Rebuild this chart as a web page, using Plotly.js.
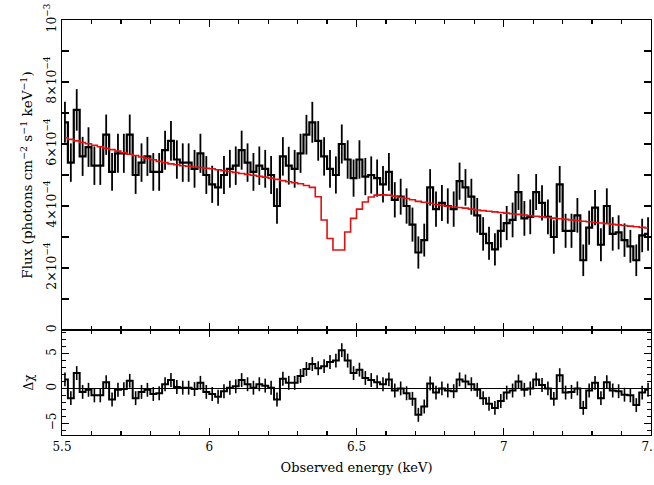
<!DOCTYPE html>
<html>
<head>
<meta charset="utf-8">
<script src="https://cdn.plot.ly/plotly-3.0.1.min.js"></script>
<style>html,body{margin:0;padding:0;background:#fff;}#chart{width:654px;height:485px;}</style>
</head>
<body>
<div id="chart"></div>
<script>
// Bin centres (keV)
const energy = [5.51,5.53,5.55,5.57,5.59,5.61,5.63,5.65,5.67,5.69,
5.71,5.73,5.75,5.77,5.79,5.81,5.83,5.85,5.87,5.89,
5.91,5.93,5.95,5.97,5.99,6.01,6.03,6.05,6.07,6.09,
6.11,6.13,6.15,6.17,6.19,6.21,6.23,6.25,6.27,6.29,
6.31,6.33,6.35,6.37,6.39,6.41,6.43,6.45,6.47,6.49,
6.51,6.53,6.55,6.57,6.59,6.61,6.63,6.65,6.67,6.69,
6.71,6.73,6.75,6.77,6.79,6.81,6.83,6.85,6.87,6.89,
6.91,6.93,6.95,6.97,6.99,7.01,7.03,7.05,7.07,7.09,
7.11,7.13,7.15,7.17,7.19,7.21,7.23,7.25,7.27,7.29,
7.31,7.33,7.35,7.37,7.39,7.41,7.43,7.45,7.47,7.49];

// Flux in units of 1e-4 photons cm^-2 s^-1 keV^-1
const flux = [6.7,5.4,7.1,5.6,5.9,5.3,5.3,6.3,5.1,5.7,
5.7,6.3,5.0,5.4,5.6,5.1,5.1,5.8,6.1,5.5,
5.4,5.4,5.2,5.7,5.0,4.7,4.6,5.0,5.2,5.3,
5.8,5.4,5.1,5.3,5.2,5.0,4.0,5.6,5.3,5.2,
5.7,6.3,6.7,6.1,5.6,5.2,5.0,6.0,5.5,4.9,
5.5,4.95,5.0,4.9,4.7,5.1,4.2,4.3,4.0,3.4,
2.5,2.9,4.6,3.9,4.1,4.0,3.9,4.8,4.6,4.3,
3.7,3.1,2.8,2.6,3.2,3.45,3.55,4.45,3.6,3.65,
4.45,4.1,3.65,3.0,4.7,3.2,3.2,3.7,2.25,3.3,
3.95,2.75,4.0,3.1,3.15,2.9,2.7,2.25,3.05,3.1];

const fluxErr = [0.66,0.62,0.67,0.63,0.64,0.62,0.62,0.65,0.61,0.63,
0.63,0.65,0.61,0.62,0.63,0.61,0.61,0.63,0.64,0.62,
0.62,0.62,0.61,0.63,0.61,0.60,0.59,0.61,0.61,0.62,
0.63,0.62,0.61,0.62,0.61,0.61,0.57,0.62,0.61,0.61,
0.63,0.64,0.66,0.64,0.62,0.61,0.60,0.63,0.62,0.60,
0.62,0.60,0.60,0.60,0.59,0.61,0.57,0.58,0.57,0.55,
0.52,0.53,0.59,0.57,0.58,0.57,0.57,0.60,0.59,0.58,
0.56,0.54,0.53,0.52,0.54,0.55,0.56,0.58,0.56,0.56,
0.58,0.57,0.56,0.54,0.59,0.55,0.55,0.56,0.51,0.55,
0.57,0.53,0.57,0.54,0.55,0.54,0.53,0.51,0.54,0.54];

// Model (red), same units
const model = [6.20,6.15,6.10,6.05,6.01,5.96,5.91,5.86,5.82,5.77,
5.72,5.67,5.63,5.58,5.53,5.49,5.44,5.40,5.36,5.33,
5.30,5.28,5.26,5.24,5.22,5.20,5.17,5.14,5.11,5.08,
5.05,5.02,4.99,4.96,4.93,4.90,4.86,4.82,4.78,4.75,
4.72,4.66,4.60,4.30,3.55,2.95,2.58,2.58,3.16,3.60,
3.90,4.13,4.29,4.35,4.36,4.35,4.32,4.28,4.24,4.20,
4.15,4.12,4.09,4.05,4.02,3.99,3.97,3.95,3.93,3.90,
3.87,3.85,3.83,3.81,3.79,3.77,3.75,3.73,3.71,3.69,
3.67,3.65,3.63,3.61,3.59,3.57,3.55,3.53,3.51,3.49,
3.47,3.45,3.43,3.41,3.39,3.37,3.35,3.33,3.31,3.29];

// Residuals (delta chi)
const resid = [1.3,-1.4,2.2,-0.5,-0.2,-1.0,-1.0,0.9,-1.6,-0.2,
-0.1,1.1,-1.4,-0.5,-0.2,-0.8,-0.7,0.6,1.2,0.2,
0.1,0.1,-0.1,0.8,-0.5,-0.8,-1.2,-0.4,0.1,0.3,
1.2,0.6,0.1,0.6,0.4,0.1,-1.6,1.4,0.8,0.8,
1.8,2.8,3.5,2.9,3.2,3.8,4.0,5.5,4.0,2.2,
2.7,1.5,1.2,0.9,0.6,1.3,-0.3,0.0,-0.7,-1.5,
-3.8,-2.6,0.7,-0.6,0.0,-0.3,-0.4,1.3,1.0,0.6,
-0.2,-1.4,-2.2,-2.8,-1.8,-0.6,-0.3,1.0,-0.2,0.0,
1.3,0.5,0.0,-1.5,1.9,-0.6,-0.5,0.0,-2.8,-0.3,
0.8,-1.4,0.9,-0.3,-0.4,-0.9,-1.0,-2.4,-0.6,-0.2];

// Tick labels
const xTickVals = [5.5, 6, 6.5, 7, 7.5];
const xTickText = ['5.5', '6', '6.5', '7', '7.5'];
const yTickVals = [0, 2, 4, 6, 8, 10];
const yTickText = ['0', '2\u00d710<sup>\u22124</sup>', '4\u00d710<sup>\u22124</sup>', '6\u00d710<sup>\u22124</sup>', '8\u00d710<sup>\u22124</sup>', '10<sup>\u22123</sup>'];
const rTickVals = [-5, 0, 5];
const rTickText = ['\u22125', '0', '5'];

const FONT = 'DejaVu Serif, Liberation Serif, serif';

const traces = [
  {
    x: energy, y: flux, xaxis: 'x2', yaxis: 'y', type: 'scatter', mode: 'lines',
    line: {color: '#000', width: 2.2, shape: 'hvh'},
    error_y: {type: 'data', array: fluxErr, visible: true, color: '#000', thickness: 1.8, width: 0},
    hoverinfo: 'skip', showlegend: false
  },
  {
    x: energy, y: model, xaxis: 'x2', yaxis: 'y', type: 'scatter', mode: 'lines',
    line: {color: '#e01010', width: 1.6, shape: 'hvh'},
    hoverinfo: 'skip', showlegend: false
  },
  {
    x: energy, y: resid, xaxis: 'x', yaxis: 'y2', type: 'scatter', mode: 'lines',
    line: {color: '#000', width: 2, shape: 'hvh'},
    error_y: {type: 'constant', value: 1, visible: true, color: '#000', thickness: 1.6, width: 0},
    hoverinfo: 'skip', showlegend: false
  }
];

const axCommon = {
  showline: true, linecolor: '#000', linewidth: 1.4, mirror: 'allticks',
  ticks: 'inside', tickcolor: '#000', tickwidth: 1.2, showgrid: false, zeroline: false,
  tickfont: {family: FONT, size: 12, color: '#000'}
};

const layout = {
  width: 654, height: 485,
  margin: {l: 62, r: 3, t: 20, b: 50, pad: 0},
  paper_bgcolor: '#fff', plot_bgcolor: '#fff',
  font: {family: FONT, color: '#000', size: 12},
  showlegend: false,
  xaxis: Object.assign({}, axCommon, {
    domain: [0, 1], anchor: 'y2', range: [5.5, 7.5], ticklabeloverflow: 'allow',
    tickmode: 'array', tickvals: xTickVals, ticktext: xTickText, ticklen: 7,
    minor: {dtick: 0.1, ticklen: 4, ticks: 'inside', tickcolor: '#000', showgrid: false},
    title: {text: 'Observed energy (keV)', font: {family: FONT, size: 13, color: '#000'}, standoff: 10}
  }),
  xaxis2: Object.assign({}, axCommon, {
    domain: [0, 1], anchor: 'y', range: [5.5, 7.5], matches: 'x',
    tickmode: 'array', tickvals: xTickVals, ticktext: xTickText, ticklen: 7, showticklabels: false,
    minor: {dtick: 0.1, ticklen: 4, ticks: 'inside', tickcolor: '#000', showgrid: false}
  }),
  yaxis: Object.assign({}, axCommon, {
    domain: [0.253, 1], anchor: 'x2', range: [0, 10], ticklabeloverflow: 'allow',
    tickmode: 'array', tickvals: yTickVals, ticktext: yTickText, ticklen: 7, tickangle: -90,
    tickfont: {family: FONT, size: 12.5, color: '#000'},
    minor: {dtick: 1, ticklen: 7, ticks: 'inside', tickcolor: '#000', showgrid: false},
    title: {text: 'Flux (photons cm<sup>\u22122</sup> s<sup>\u22121</sup> keV<sup>\u22121</sup>)', font: {family: FONT, size: 13.5, color: '#000'}, standoff: 6}
  }),
  yaxis2: Object.assign({}, axCommon, {
    domain: [0, 0.253], anchor: 'x', range: [-6.7, 8.4], ticklabeloverflow: 'allow',
    tickmode: 'array', tickvals: rTickVals, ticktext: rTickText, ticklen: 7, tickangle: -90,
    minor: {dtick: 1, ticklen: 4, ticks: 'inside', tickcolor: '#000', showgrid: false},
    zeroline: true, zerolinecolor: '#000', zerolinewidth: 1.2,
    title: {text: '\u0394\u03c7', font: {family: FONT, size: 12, color: '#000'}, standoff: 8}
  })
};

Plotly.newPlot('chart', traces, layout, {displayModeBar: false, staticPlot: true});
</script>
</body>
</html>
